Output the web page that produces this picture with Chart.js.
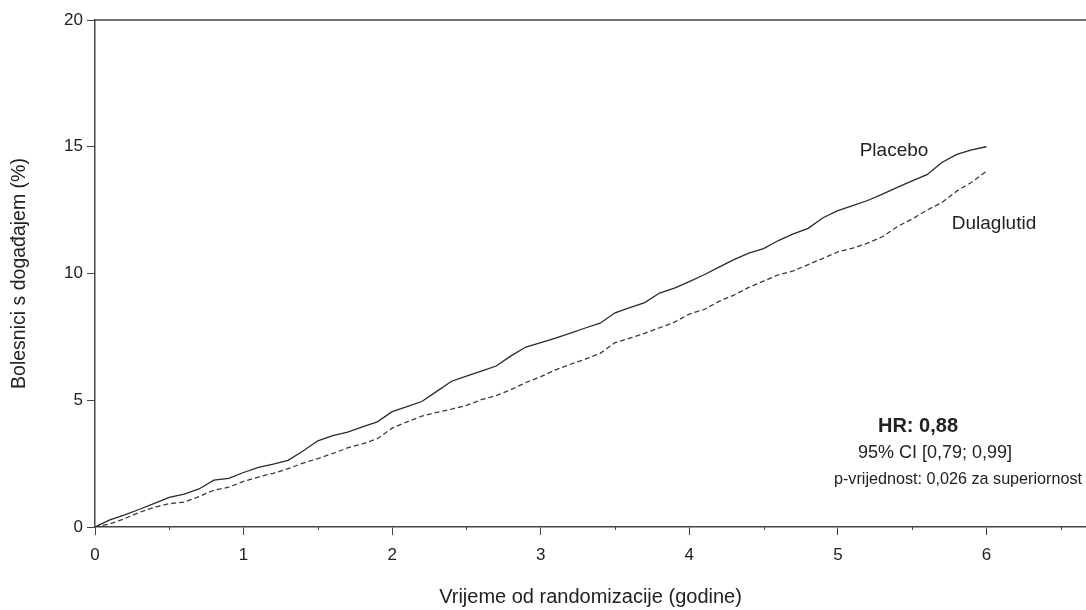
<!DOCTYPE html>
<html>
<head>
<meta charset="utf-8">
<script src="https://cdn.jsdelivr.net/npm/chart.js@4/dist/chart.umd.min.js"></script>
<style>
    html, body { margin: 0; padding: 0; background: #fff; }
    #wrap { width: 1086px; height: 610px; position: relative; }
</style>
</head>
<body>
<div id="wrap"><canvas id="kmChart"></canvas></div>
<script>
// Years since randomisation, every 0.1 year
const years = [0.0, 0.1, 0.2, 0.3, 0.4, 0.5, 0.6, 0.7, 0.8, 0.9,
    1.0, 1.1, 1.2, 1.3, 1.4, 1.5, 1.6, 1.7, 1.8, 1.9,
    2.0, 2.1, 2.2, 2.3, 2.4, 2.5, 2.6, 2.7, 2.8, 2.9,
    3.0, 3.1, 3.2, 3.3, 3.4, 3.5, 3.6, 3.7, 3.8, 3.9,
    4.0, 4.1, 4.2, 4.3, 4.4, 4.5, 4.6, 4.7, 4.8, 4.9,
    5.0, 5.1, 5.2, 5.3, 5.4, 5.5, 5.6, 5.7, 5.8, 5.9, 6.0];

const placebo = [0, 0.28, 0.48, 0.70, 0.93, 1.17, 1.30, 1.50, 1.85, 1.92,
    2.15, 2.35, 2.48, 2.63, 3.00, 3.40, 3.60, 3.74, 3.95, 4.15,
    4.55, 4.75, 4.95, 5.35, 5.75, 5.95, 6.15, 6.35, 6.75, 7.10,
    7.27, 7.45, 7.65, 7.85, 8.04, 8.45, 8.65, 8.85, 9.23, 9.42,
    9.68, 9.95, 10.25, 10.55, 10.80, 10.98, 11.30, 11.56, 11.78, 12.20,
    12.48, 12.68, 12.88, 13.13, 13.40, 13.65, 13.90, 14.38, 14.70, 14.88, 15.0];

const dulaglutide = [0, 0.12, 0.33, 0.58, 0.78, 0.92, 0.98, 1.20, 1.45, 1.57,
    1.80, 1.97, 2.12, 2.30, 2.52, 2.70, 2.90, 3.12, 3.28, 3.48,
    3.90, 4.15, 4.37, 4.52, 4.65, 4.80, 5.02, 5.18, 5.42, 5.70,
    5.93, 6.20, 6.42, 6.62, 6.85, 7.27, 7.45, 7.64, 7.86, 8.08,
    8.40, 8.58, 8.90, 9.15, 9.45, 9.70, 9.95, 10.10, 10.35, 10.60,
    10.85, 11.00, 11.20, 11.45, 11.85, 12.15, 12.50, 12.80, 13.25, 13.60, 14.03];

const xTicks = [0, 0.5, 1, 1.5, 2, 2.5, 3, 3.5, 4, 4.5, 5, 5.5, 6, 6.5];
const yTicks = [0, 5, 10, 15, 20];

const FONT = "'Liberation Sans', Arial, sans-serif";
const INK = '#222';
const AXIS = '#444';

function toPoints(values) {
    return years.map((t, i) => ({ x: t, y: values[i] }));
}

// Top frame line, short minor ticks and the in-plot labels
const extrasPlugin = {
    id: 'extras',
    afterDraw(chart) {
        const ctx = chart.ctx;
        const area = chart.chartArea;
        const xs = chart.scales.x;
        ctx.save();
        ctx.strokeStyle = AXIS;
        ctx.lineWidth = 1.5;
        ctx.beginPath();
        ctx.moveTo(area.left, area.top);
        ctx.lineTo(chart.width, area.top);
        ctx.stroke();

        ctx.lineWidth = 1;
        xTicks.filter(v => v % 1 !== 0).forEach(v => {
            const px = Math.round(xs.getPixelForValue(v)) + 0.5;
            ctx.beginPath();
            ctx.moveTo(px, area.bottom);
            ctx.lineTo(px, area.bottom + 3);
            ctx.stroke();
        });

        ctx.fillStyle = INK;
        ctx.textAlign = 'center';
        ctx.textBaseline = 'middle';
        ctx.font = `19px ${FONT}`;
        ctx.fillText('Placebo', 894, 151);
        ctx.fillText('Dulaglutid', 994, 224);

        ctx.font = `bold 20px ${FONT}`;
        ctx.fillText('HR: 0,88', 918, 426);
        ctx.font = `18px ${FONT}`;
        ctx.fillText('95% CI [0,79; 0,99]', 935, 453);
        ctx.font = `17px ${FONT}`;
        ctx.fillText('p-vrijednost: 0,026 za superiornost', 958, 479, 248);
        ctx.restore();
    }
};

const ctx = document.getElementById('kmChart').getContext('2d');
new Chart(ctx, {
    type: 'line',
    data: {
        datasets: [{
            label: 'Placebo',
            data: toPoints(placebo),
            borderColor: '#2a2a2a',
            borderWidth: 1.3,
            pointRadius: 0,
            tension: 0,
            fill: false
        }, {
            label: 'Dulaglutid',
            data: toPoints(dulaglutide),
            borderColor: '#3a3a3a',
            borderWidth: 1.3,
            borderDash: [5, 3],
            pointRadius: 0,
            tension: 0,
            fill: false
        }]
    },
    options: {
        responsive: true,
        maintainAspectRatio: false,
        animation: false,
        layout: { padding: { top: 20, right: 0, bottom: 0, left: 0 } },
        plugins: {
            legend: { display: false },
            tooltip: { enabled: false }
        },
        scales: {
            x: {
                type: 'linear',
                min: 0,
                max: 6.67,
                afterBuildTicks: scale => { scale.ticks = xTicks.map(v => ({ value: v })); },
                afterFit: scale => { scale.height = 83; },
                border: { display: true, color: AXIS, width: 1.5 },
                grid: {
                    drawOnChartArea: false,
                    drawTicks: true,
                    tickLength: 8,
                    tickColor: c => (c.tick && c.tick.value % 1 === 0) ? AXIS : 'rgba(0,0,0,0)'
                },
                ticks: {
                    autoSkip: false,
                    maxRotation: 0,
                    padding: 10,
                    color: INK,
                    font: { family: FONT, size: 17 },
                    callback: v => (v % 1 === 0 ? String(v) : '')
                },
                title: {
                    display: true,
                    text: 'Vrijeme od randomizacije (godine)',
                    color: INK,
                    font: { family: FONT, size: 20 },
                    padding: { top: 0, bottom: 1 }
                }
            },
            y: {
                type: 'linear',
                min: 0,
                max: 20,
                afterBuildTicks: scale => { scale.ticks = yTicks.map(v => ({ value: v })); },
                afterFit: scale => { scale.width = 95; },
                border: { display: true, color: AXIS, width: 1.5 },
                grid: {
                    drawOnChartArea: false,
                    drawTicks: true,
                    tickLength: 8,
                    tickColor: AXIS
                },
                ticks: {
                    padding: 4,
                    color: INK,
                    font: { family: FONT, size: 17 }
                },
                title: {
                    display: true,
                    text: 'Bolesnici s događajem (%)',
                    color: INK,
                    font: { family: FONT, size: 19.5 },
                    padding: { top: 8, bottom: 0 }
                }
            }
        }
    },
    plugins: [extrasPlugin]
});
</script>
</body>
</html>
